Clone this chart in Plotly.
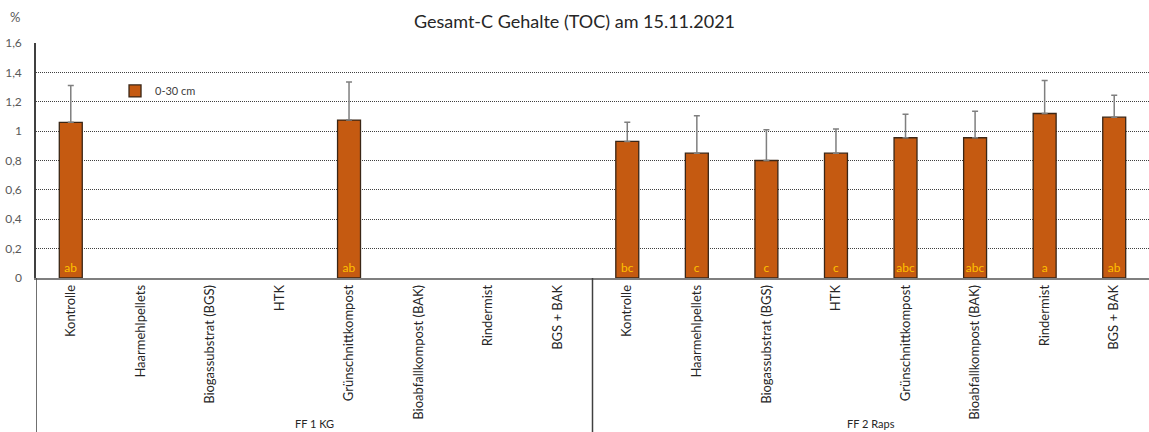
import plotly.graph_objects as go

# Varianten je Versuchsfeld (FF 1 KG links, FF 2 Raps rechts)
varianten = ["Kontrolle", "Haarmehlpellets", "Biogassubstrat (BGS)", "HTK",
             "Grünschnittkompost", "Bioabfallkompost (BAK)", "Rindermist", "BGS + BAK"]
gruppen = ["FF 1 KG", "FF 2 Raps"]

# TOC-Gehalte in % (0-30 cm), None = nicht beprobt
toc_ff1 = [1.06, None, None, None, 1.075, None, None, None]
toc_ff2 = [0.93, 0.85, 0.80, 0.85, 0.955, 0.955, 1.12, 1.095]

# Standardabweichung (nur nach oben dargestellt)
sd_ff1 = [0.25, None, None, None, 0.26, None, None, None]
sd_ff2 = [0.13, 0.255, 0.21, 0.165, 0.16, 0.18, 0.225, 0.15]

# Signifikanzbuchstaben
sig_ff1 = ["ab", "", "", "", "ab", "", "", ""]
sig_ff2 = ["bc", "c", "c", "c", "abc", "abc", "a", "ab"]

y_ticks = [0, 0.2, 0.4, 0.6, 0.8, 1, 1.2, 1.4, 1.6]
y_labels = ["0", "0,2", "0,4", "0,6", "0,8", "1", "1,2", "1,4", "1,6"]

labels = varianten + varianten
values = toc_ff1 + toc_ff2
errors = [e if e is not None else 0 for e in sd_ff1 + sd_ff2]
letters = sig_ff1 + sig_ff2
xpos = list(range(len(labels)))

FONT = "Lato"

fig = go.Figure()
fig.add_trace(go.Bar(
    x=xpos, y=values, name="0-30 cm",
    width=0.33,
    marker=dict(color="#C55A11", line=dict(color="#3a2616", width=1.3)),
    error_y=dict(type="data", symmetric=False, array=errors,
                 arrayminus=[0] * len(errors), color="#7f7f7f",
                 thickness=1.5, width=3),
    text=letters, textposition="inside", insidetextanchor="start",
    textangle=0, constraintext="none",
    textfont=dict(family=FONT, size=12, color="#FFC000"),
))

fig.update_layout(
    width=1149, height=432,
    margin=dict(l=36, r=0, t=43, b=154),
    plot_bgcolor="white", paper_bgcolor="white",
    font=dict(family=FONT, color="#404040"),
    title=dict(text="Gesamt-C Gehalte (TOC) am 15.11.2021", x=0.5, xanchor="center",
               y=0.95, yanchor="middle", font=dict(family=FONT, size=18, color="#262626")),
    showlegend=True,
    legend=dict(x=0.071, y=0.796, xanchor="left", yanchor="middle",
                bgcolor="rgba(0,0,0,0)", font=dict(family=FONT, size=11, color="#404040"),
                itemwidth=30),
    xaxis=dict(tickmode="array", tickvals=xpos, ticktext=labels, tickangle=-90,
               range=[-0.5, len(labels) - 0.5], ticks="", showgrid=False,
               showline=True, linecolor="#7f7f7f", linewidth=1.5, automargin=False,
               tickfont=dict(family=FONT, size=13, color="#262626"), zeroline=False),
    yaxis=dict(range=[0, 1.6], tickmode="array", tickvals=y_ticks, ticktext=y_labels,
               showgrid=True, gridcolor="#404040", griddash="1px,1px", gridwidth=1,
               showline=True, linecolor="#404040", linewidth=1.5, ticks="",
               ticklabelstandoff=10, zeroline=False, automargin=False,
               tickfont=dict(family=FONT, size=12, color="#595959")),
)

# Trennlinien der Gruppenachse
for xv in [-0.5, 7.5]:
    fig.add_shape(type="line", xref="x", yref="paper", x0=xv, x1=xv, y0=0, y1=-0.7,
                  line=dict(color="#404040", width=1.5))

# Gruppenbeschriftungen
n = len(varianten)
for i, g in enumerate(gruppen):
    fig.add_annotation(x=i * n + (n - 1) / 2, xref="x", y=-0.62, yref="paper",
                       text=g, showarrow=False, yanchor="middle",
                       font=dict(family=FONT, size=11, color="#262626"))

fig.add_annotation(x=-0.019, xref="paper", y=1.11, yref="paper", text="%",
                   xanchor="center", yanchor="middle", showarrow=False,
                   font=dict(family=FONT, size=13, color="#595959"))

# remove the default 8px body margin so the figure fills the window
fig.write_html("out.html", config={"displayModeBar": False},
               post_script="document.body.style.margin='0';")
